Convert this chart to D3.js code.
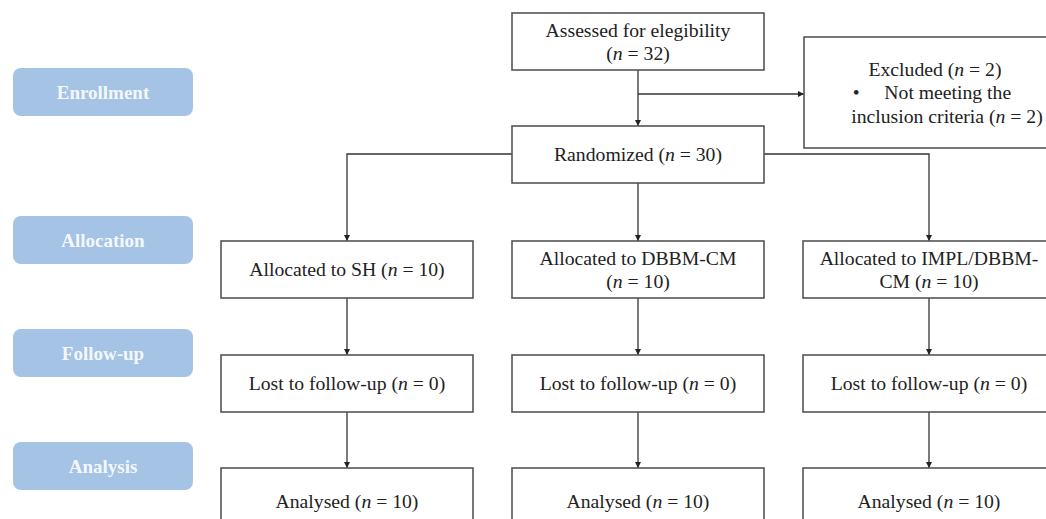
<!DOCTYPE html>
<html>
<head>
<meta charset="utf-8">
<script src="https://cdn.jsdelivr.net/npm/d3@7"></script>
<style>
  html, body { margin: 0; padding: 0; background: #fff; }
  svg { display: block; }
</style>
</head>
<body>
<svg id="chart" width="1046" height="519"></svg>
<script>
// ---- data ----
const stageLabels = ["Enrollment", "Allocation", "Follow-up", "Analysis"];
const assessedN = 32;
const excludedN = 2;
const excludedReason = "Not meeting the inclusion criteria";
const randomizedN = 30;
const groups = ["SH", "DBBM-CM", "IMPL/DBBM-CM"];
const allocatedN = [10, 10, 10];
const lostN = [0, 0, 0];
const analysedN = [10, 10, 10];

// ---- layout ----
const svg = d3.select("#chart");
const colX = d3.scalePoint().domain(d3.range(groups.length)).range([347, 929]);
const boxW = 252, boxH = 57;
const fontFamily = "'Liberation Serif', 'Times New Roman', serif";
const stroke = "#555";
const fs = 19.7;

const defs = svg.append("defs");
defs.append("marker")
  .attr("id", "arr").attr("viewBox", "0 0 10 10")
  .attr("refX", 10).attr("refY", 5)
  .attr("markerWidth", 6).attr("markerHeight", 6)
  .attr("markerUnits", "userSpaceOnUse")
  .attr("orient", "auto")
  .append("path").attr("d", "M0,0 L10,5 L0,10 Z").attr("fill", "#222");

// stage labels (left)
const lblY = [68, 216, 329, 442];
const lbl = svg.append("g").selectAll("g").data(stageLabels).join("g")
  .attr("transform", (d, i) => `translate(13,${lblY[i]})`);
lbl.append("rect").attr("width", 180).attr("height", 48)
  .attr("rx", 8).attr("ry", 8).attr("fill", "#a5c3e5");
lbl.append("text").attr("x", 90).attr("y", 24).attr("dy", "0.35em")
  .attr("text-anchor", "middle").attr("fill", "#fff").attr("fill-opacity", 0.9)
  .attr("font-family", fontFamily).attr("font-weight", "bold").attr("font-size", 19)
  .text(d => d);

function seg(prefix, n, suffix) {
  return [{t: prefix}, {t: "n", i: true}, {t: " = " + n + suffix}];
}
function drawBox(x0, y0, w, h, lines, cxs) {
  svg.append("rect").attr("x", x0).attr("y", y0).attr("width", w).attr("height", h)
    .attr("fill", "#fff").attr("stroke", stroke).attr("stroke-width", 1.6);
  const lh = 23.5;
  const cy = y0 + h / 2;
  const txt = svg.append("text").attr("font-family", fontFamily).attr("font-size", fs)
    .attr("fill", "#222").attr("text-anchor", "middle").style("white-space", "pre");
  lines.forEach((segs, k) => {
    const y = cy + (k - (lines.length - 1) / 2) * lh;
    const cx = cxs ? cxs[k] : x0 + w / 2;
    segs.forEach((s, j) => {
      const sp = txt.append("tspan").text(s.t);
      if (j === 0) sp.attr("x", cx).attr("y", y).attr("dy", "0.35em");
      if (s.i) sp.attr("font-style", "italic");
    });
  });
}

function link(points, arrow) {
  svg.append("path").attr("d", d3.line()(points))
    .attr("fill", "none").attr("stroke", "#333").attr("stroke-width", 1.3)
    .attr("marker-end", arrow ? "url(#arr)" : null);
}

const midX = 638;
const assessed = {y: 13, h: 57};
const randomized = {y: 126, h: 57};
const excluded = {x: 804, y: 37, w: 250, h: 111};
const rowY = {alloc: 241, lost: 355, anal: 468};

// connectors
link([[midX, assessed.y + assessed.h], [midX, randomized.y]], true);
link([[midX, 94], [excluded.x, 94]], true);
const rMid = randomized.y + 28;
link([[midX - boxW / 2, rMid], [colX(0), rMid], [colX(0), rowY.alloc]], true);
link([[midX + boxW / 2, rMid], [colX(2), rMid], [colX(2), rowY.alloc]], true);
link([[colX(1), randomized.y + randomized.h], [colX(1), rowY.alloc]], true);
groups.forEach((g, i) => {
  link([[colX(i), rowY.alloc + boxH], [colX(i), rowY.lost]], true);
  link([[colX(i), rowY.lost + boxH], [colX(i), rowY.anal]], true);
});

// top boxes
drawBox(midX - boxW / 2, assessed.y, boxW, assessed.h,
  [[{t: "Assessed for elegibility"}], [{t: "("}, {t: "n", i: true}, {t: " = " + assessedN + ")"}]]);
drawBox(midX - boxW / 2, randomized.y, boxW, randomized.h,
  [seg("Randomized (", randomizedN, ")")]);
const reasonWords = excludedReason.split(" ");
drawBox(excluded.x, excluded.y, excluded.w, excluded.h,
  [seg("Excluded (", excludedN, ")"),
   [{t: "\u2022     " + reasonWords.slice(0, 3).join(" ")}],
   seg(reasonWords.slice(3).join(" ") + " (", excludedN, ")")], [935, 932, 947]);

// group boxes
groups.forEach((g, i) => {
  const x0 = colX(i) - boxW / 2;
  let lines;
  if (g === "SH") lines = [seg("Allocated to " + g + " (", allocatedN[i], ")")];
  else if (g === "DBBM-CM") lines = [[{t: "Allocated to " + g}], [{t: "("}, {t: "n", i: true}, {t: " = " + allocatedN[i] + ")"}]];
  else {
    const parts = g.split("-");
    lines = [[{t: "Allocated to " + parts[0] + "-"}], seg(parts[1] + " (", allocatedN[i], ")")];
  }
  drawBox(x0, rowY.alloc, boxW, boxH, lines);
  drawBox(x0, rowY.lost, boxW, boxH, [seg("Lost to follow-up (", lostN[i], ")")]);
  drawBox(x0, rowY.anal, boxW, boxH + 10, [seg("Analysed (", analysedN[i], ")")]);
});
</script>
</body>
</html>
